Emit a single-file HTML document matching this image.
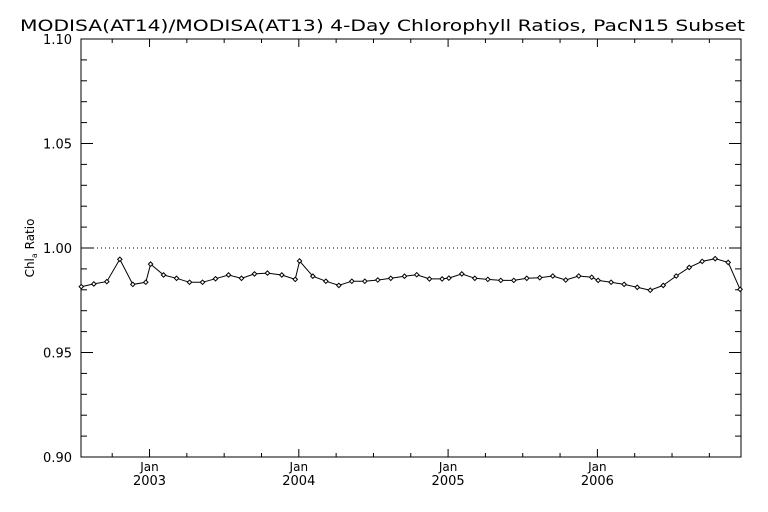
<!DOCTYPE html>
<html><head><meta charset="utf-8"><style>
body{margin:0;background:#fff;}
svg{display:block;font-family:"DejaVu Sans","Liberation Sans",sans-serif;}
</style></head><body>
<svg id="chart" width="768" height="512" viewBox="0 0 768 512">
<text x="20" y="31" textLength="725" lengthAdjust="spacingAndGlyphs" font-size="16">MODISA(AT14)/MODISA(AT13) 4-Day Chlorophyll Ratios, PacN15 Subset</text>
<text transform="translate(34,248) rotate(-90)" text-anchor="middle" font-size="12">Chl<tspan font-size="8" dy="3">a</tspan><tspan dy="-3"> Ratio</tspan></text>
<g id="axes"></g>
<g id="series"></g>
</svg>
<script>
const years = [2002.543,2002.627,2002.714,2002.801,2002.888,2002.975,2003.007,2003.094,2003.181,2003.268,2003.355,2003.442,2003.529,2003.616,2003.703,2003.790,2003.886,2003.976,2004.005,2004.094,2004.181,2004.268,2004.355,2004.442,2004.529,2004.616,2004.708,2004.790,2004.875,2004.960,2005.005,2005.092,2005.179,2005.266,2005.353,2005.440,2005.527,2005.614,2005.701,2005.788,2005.875,2005.962,2006.005,2006.092,2006.179,2006.267,2006.354,2006.441,2006.528,2006.615,2006.702,2006.789,2006.876,2006.956];
const ratios = [0.9815,0.9828,0.9839,0.9946,0.9826,0.9836,0.9923,0.9871,0.9855,0.9836,0.9836,0.9853,0.9871,0.9855,0.9876,0.9880,0.9871,0.9850,0.9938,0.9865,0.9841,0.9821,0.9841,0.9841,0.9847,0.9855,0.9865,0.9872,0.9852,0.9852,0.9856,0.9876,0.9855,0.9850,0.9845,0.9845,0.9855,0.9858,0.9866,0.9847,0.9866,0.9860,0.9845,0.9836,0.9826,0.9812,0.9798,0.9821,0.9866,0.9907,0.9936,0.9949,0.9931,0.9802];
const yTicks = [0.90,0.95,1.00,1.05,1.10];
const yTickLabels = ["0.90","0.95","1.00","1.05","1.10"];
const xTickYears = [2003,2004,2005,2006];
const xTickLabels = ["2003","2004","2005","2006"];

const L=81,R=741,T=39,B=457;
const X0=2002.541,X1=2006.962,Y0=0.90,Y1=1.10;
const sx=v=>L+(v-X0)/(X1-X0)*(R-L);
const sy=v=>B-(v-Y0)/(Y1-Y0)*(B-T);
const NS="http://www.w3.org/2000/svg";
function mk(tag,attrs,parent){const e=document.createElementNS(NS,tag);for(const k in attrs)e.setAttribute(k,attrs[k]);parent.appendChild(e);return e;}
const ax=document.getElementById('axes');
const frame=mk('rect',{x:L,y:T,width:R-L,height:B-T,fill:'none',stroke:'#000','stroke-width':1},ax);


const ref=mk('line',{x1:L,x2:R,y1:sy(1.0),y2:sy(1.0),stroke:'#000','stroke-dasharray':'1,3'},ax);


for(let v=0.90;v<=1.1001;v+=0.01){
  const y=sy(v);const major=Math.abs(Math.round(v*100)%5)===0;const len=major?12:6;
  mk('line',{x1:L,x2:L+len,y1:y,y2:y,stroke:'#000'},ax);
  mk('line',{x1:R,x2:R-len,y1:y,y2:y,stroke:'#000'},ax);
}
yTicks.forEach((v,i)=>{
  const t=mk('text',{x:72,y:sy(v)+5,'text-anchor':'end','font-size':13},ax);
  t.textContent=yTickLabels[i];
  
  
});
for(let v=2002.75;v<X1;v+=0.25){
  const x=sx(v);const major=Math.abs(v-Math.round(v))<0.01;const len=major?8:4;
  mk('line',{x1:x,x2:x,y1:B,y2:B-len,stroke:'#000'},ax);
  mk('line',{x1:x,x2:x,y1:T,y2:T+len,stroke:'#000'},ax);
}
xTickYears.forEach((v,i)=>{
  const t1=mk('text',{x:sx(v),y:471,'text-anchor':'middle','font-size':12},ax);
  t1.textContent='Jan';
  
  
  const t2=mk('text',{x:sx(v),y:485,'text-anchor':'middle','font-size':13},ax);
  t2.textContent=xTickLabels[i];
  
  
});
const sg=document.getElementById('series');
const pts=years.map((y,i)=>sx(y).toFixed(1)+','+sy(ratios[i]).toFixed(1)).join(' ');
const pl=mk('polyline',{points:pts,fill:'none',stroke:'#000','stroke-width':1},sg);


years.forEach((y,i)=>{
  const cx=sx(y),cy=sy(ratios[i]);
  const d=mk('polygon',{points:`${cx},${cy-2.2} ${cx+2.2},${cy} ${cx},${cy+2.2} ${cx-2.2},${cy}`,fill:'#fff',stroke:'#000','stroke-width':1},sg);
  
  
});
</script>
</body></html>
